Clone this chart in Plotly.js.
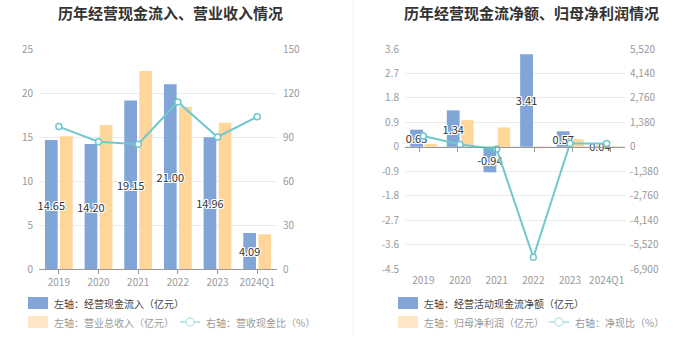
<!DOCTYPE html>
<html>
<head>
<meta charset="utf-8">
<script src="https://cdn.plot.ly/plotly-3.0.1.min.js"></script>
<style>html,body{margin:0;padding:0;background:#fff}#chart{width:700px;height:360px}</style>
</head>
<body>
<div id="chart"></div>
<script>
// ---- data ----
const categories = ['2019', '2020', '2021', '2022', '2023', '2024Q1'];
const cashInflow = [14.65, 14.20, 19.15, 21.00, 14.96, 4.09];       // 经营现金流入（亿元）
const revenue = [15.08, 16.36, 22.50, 18.44, 16.63, 3.94];          // 营业总收入（亿元）
const cashRevRatio = [97.1, 86.8, 85.1, 113.9, 90.0, 103.8];        // 营收现金比（%）
const netCashFlow = [0.63, 1.34, -0.94, 3.41, 0.57, 0.04];          // 经营活动现金流净额（亿元）
const netProfit = [0.10, 0.98, 0.71, -0.05, 0.28, 0.02];            // 归母净利润（亿元）
const netCashRatio = [610, 135, -130, -6240, 190, 190];              // 净现比（%）

const leftTickVals = [0, 5, 10, 15, 20, 25];
const leftTickText = ['0', '5', '10', '15', '20', '25'];
const leftTickVals2 = [0, 30, 60, 90, 120, 150];
const leftTickText2 = ['0', '30', '60', '90', '120', '150'];
const rightTickVals = [-4.5, -3.6, -2.7, -1.8, -0.9, 0, 0.9, 1.8, 2.7, 3.6];
const rightTickText = ['-4.5', '-3.6', '-2.7', '-1.8', '-0.9', '0', '0.9', '1.8', '2.7', '3.6'];
const rightTickVals2 = [-6900, -5520, -4140, -2760, -1380, 0, 1380, 2760, 4140, 5520];
const rightTickText2 = ['-6,900', '-5,520', '-4,140', '-2,760', '-1,380', '0', '1,380', '2,760', '4,140', '5,520'];

const titles = ['历年经营现金流入、营业收入情况', '历年经营现金流净额、归母净利润情况'];
const legendLeft = ['左轴：经营现金流入（亿元）', '左轴：营业总收入（亿元）', '右轴：营收现金比（%）'];
const legendRight = ['左轴：经营活动现金流净额（亿元）', '左轴：归母净利润（亿元）', '右轴：净现比（%）'];

// ---- styles ----
const W = 700, H = 360;
const X = px => px / W;
const Y = py => 1 - py / H;
const BLUE = '#82a5d7', ORANGE = '#fed699', TEAL = '#6ec8cd';
const FONT = '"Noto Sans CJK SC", "Noto Sans", sans-serif';
const tickFont = {size: 10, color: '#999', family: FONT};
const shadow = '1px 0 0 #fff, -1px 0 0 #fff, 0 1px 0 #fff, 0 -1px 0 #fff, 1px 1px 0 #fff, -1px -1px 0 #fff, 1px -1px 0 #fff, -1px 1px 0 #fff';
const labelFont = {size: 11, color: '#333', family: FONT, shadow: shadow};

const rangeL = [-4.5, 3.6];
const yDom = [Y(269), Y(49)];
const zeroPos = yDom[0] + (0 - rangeL[0]) / (rangeL[1] - rangeL[0]) * (yDom[1] - yDom[0]);

const barCommon = {
  type: 'bar', textposition: 'inside', insidetextanchor: 'middle', textangle: 0,
  constraintext: 'none', textfont: labelFont, hoverinfo: 'skip', showlegend: false, cliponaxis: false
};
const lineStyle = {
  type: 'scatter', mode: 'lines+markers', line: {color: TEAL, width: 2},
  marker: {symbol: 'circle', size: 6, color: '#fff', line: {color: TEAL, width: 1.5}},
  hoverinfo: 'skip', showlegend: false, cliponaxis: false
};

const traces = [
  // orange first so that the blue bars' labels are drawn on top of it
  Object.assign({}, barCommon, {
    x: categories, y: revenue, text: revenue.map(() => ''),
    marker: {color: ORANGE}, width: 0.32, offset: 0.03, xaxis: 'x', yaxis: 'y'
  }),
  Object.assign({}, barCommon, {
    x: categories, y: cashInflow, text: cashInflow.map(v => v.toFixed(2)),
    marker: {color: BLUE}, width: 0.32, offset: -0.35, xaxis: 'x', yaxis: 'y'
  }),
  Object.assign({}, lineStyle, {x: categories, y: cashRevRatio, xaxis: 'x', yaxis: 'y2'}),
  Object.assign({}, barCommon, {
    x: categories, y: netProfit, text: netProfit.map(() => ''),
    marker: {color: ORANGE}, width: 0.34, offset: 0.03, xaxis: 'x2', yaxis: 'y3'
  }),
  Object.assign({}, barCommon, {
    x: categories, y: netCashFlow, text: netCashFlow.map(v => v.toFixed(2)),
    marker: {color: BLUE}, width: 0.35, offset: -0.36, xaxis: 'x2', yaxis: 'y3'
  }),
  Object.assign({}, lineStyle, {x: categories, y: netCashRatio, xaxis: 'x2', yaxis: 'y4'}),
  { // carrier for the zero-line axis of the right chart
    type: 'scatter', mode: 'markers', x: categories, y: categories.map(() => null),
    xaxis: 'x3', yaxis: 'y3', hoverinfo: 'skip', showlegend: false
  }
];

const shapes = [
  {type: 'line', xref: 'paper', yref: 'paper', x0: X(353), x1: X(353), y0: Y(335), y1: Y(0), line: {color: '#f0f0f0', width: 1}},
  // left legend
  {type: 'rect', xref: 'paper', yref: 'paper', x0: X(28), x1: X(48), y0: Y(309), y1: Y(297), fillcolor: BLUE, line: {width: 0}},
  {type: 'rect', xref: 'paper', yref: 'paper', x0: X(28), x1: X(48), y0: Y(328), y1: Y(316), fillcolor: '#fee6c6', line: {width: 0}},
  {type: 'line', xref: 'paper', yref: 'paper', x0: X(180), x1: X(200), y0: Y(322), y1: Y(322), line: {color: '#bfe6e8', width: 2}},
  {type: 'circle', xref: 'paper', yref: 'paper', x0: X(186), x1: X(194), y0: Y(326), y1: Y(318), fillcolor: '#fff', line: {color: '#bfe6e8', width: 1.5}},
  // right legend
  {type: 'rect', xref: 'paper', yref: 'paper', x0: X(398), x1: X(418), y0: Y(309), y1: Y(297), fillcolor: BLUE, line: {width: 0}},
  {type: 'rect', xref: 'paper', yref: 'paper', x0: X(398), x1: X(418), y0: Y(328), y1: Y(316), fillcolor: '#fee6c6', line: {width: 0}},
  {type: 'line', xref: 'paper', yref: 'paper', x0: X(549), x1: X(569), y0: Y(322), y1: Y(322), line: {color: '#bfe6e8', width: 2}},
  {type: 'circle', xref: 'paper', yref: 'paper', x0: X(555), x1: X(563), y0: Y(326), y1: Y(318), fillcolor: '#fff', line: {color: '#bfe6e8', width: 1.5}}
];

const ann = (text, x, y, opts) => Object.assign({
  text: text, xref: 'paper', yref: 'paper', x: x, y: y, xanchor: 'left', yanchor: 'middle',
  showarrow: false, font: {size: 10, color: '#999', family: FONT}
}, opts || {});

const annotations = [
  ann(titles[0], X(170), Y(13), {xanchor: 'center', font: {size: 15, color: '#333', family: FONT, weight: 700}}),
  ann(titles[1], X(531), Y(13), {xanchor: 'center', font: {size: 15, color: '#333', family: FONT, weight: 700}}),
  ann(legendLeft[0], X(52), Y(303), {font: {size: 10, color: '#444', family: FONT}}),
  ann(legendLeft[1], X(52), Y(322)),
  ann(legendLeft[2], X(204), Y(322)),
  ann(legendRight[0], X(422), Y(303), {font: {size: 10, color: '#444', family: FONT}}),
  ann(legendRight[1], X(422), Y(322)),
  ann(legendRight[2], X(573), Y(322))
];

const layout = {
  width: W, height: H, margin: {l: 0, r: 0, t: 0, b: 0},
  paper_bgcolor: '#fff', plot_bgcolor: '#fff', font: {family: FONT, color: '#999'},
  hovermode: false, showlegend: false,
  xaxis: {
    domain: [X(39), X(277)], anchor: 'y', type: 'category', showgrid: false,
    showline: true, linecolor: '#999', linewidth: 1, ticks: 'outside', ticklen: 4, tickcolor: '#999',
    tickfont: tickFont, fixedrange: true
  },
  yaxis: {
    domain: yDom, anchor: 'x', range: [0, 25], tickvals: leftTickVals, ticktext: leftTickText,
    showgrid: true, gridcolor: '#ececec', zeroline: false, showline: false, tickfont: tickFont,
    ticks: '', ticklabelstandoff: 5, fixedrange: true
  },
  yaxis2: {
    overlaying: 'y', side: 'right', anchor: 'x', range: [0, 150], tickvals: leftTickVals2, ticktext: leftTickText2,
    showgrid: false, zeroline: false, showline: false, tickfont: tickFont, ticks: '', ticklabelstandoff: 5, fixedrange: true
  },
  xaxis2: {
    domain: [X(405), X(625)], anchor: 'y3', type: 'category', showgrid: false,
    showline: false, ticks: '', tickfont: tickFont, ticklabelstandoff: 4, fixedrange: true
  },
  yaxis3: {
    domain: yDom, anchor: 'x2', range: rangeL, tickvals: rightTickVals, ticktext: rightTickText,
    showgrid: true, gridcolor: '#ececec', zeroline: false, showline: false, tickfont: tickFont,
    ticks: '', ticklabelstandoff: 5, fixedrange: true
  },
  yaxis4: {
    overlaying: 'y3', side: 'right', anchor: 'x2', range: [-6900, 5520], tickvals: rightTickVals2, ticktext: rightTickText2,
    showgrid: false, zeroline: false, showline: false, tickfont: tickFont, ticks: '', ticklabelstandoff: 4, fixedrange: true
  },
  xaxis3: {
    overlaying: 'x2', anchor: 'free', position: zeroPos, type: 'category', showgrid: false,
    showline: true, linecolor: '#999', linewidth: 1, ticks: 'outside', ticklen: 4, tickcolor: '#999',
    showticklabels: false, fixedrange: true
  },
  shapes: shapes,
  annotations: annotations
};

Plotly.newPlot('chart', traces, layout, {staticPlot: true, displayModeBar: false});
</script>
</body>
</html>
